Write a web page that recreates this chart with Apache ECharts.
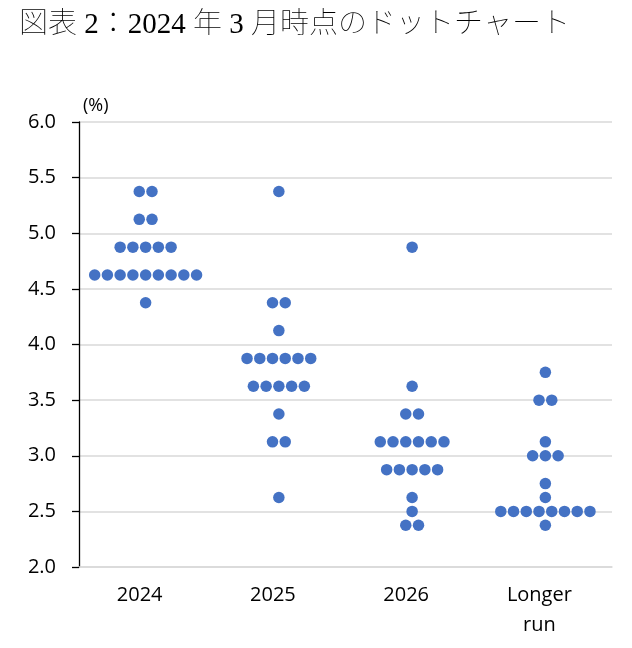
<!DOCTYPE html>
<html>
<head>
<meta charset="utf-8">
<script src="https://cdn.jsdelivr.net/npm/echarts@6/dist/echarts.min.js"></script>
<style>
html,body{margin:0;padding:0;background:#fff;}
#c{width:632px;height:648px;}
</style>
</head>
<body>
<div id="c"></div>
<script>
// Categories and tick values
const categories = ['2024', '2025', '2026', 'Longer\nrun'];
const yTicks = [2.0, 2.5, 3.0, 3.5, 4.0, 4.5, 5.0, 5.5, 6.0];

// Dot plot data: [rate (%), number of participants]
const dots2024 = [[5.375, 2], [5.125, 2], [4.875, 5], [4.625, 9], [4.375, 1]];
const dots2025 = [[5.375, 1], [4.375, 2], [4.125, 1], [3.875, 6], [3.625, 5], [3.375, 1], [3.125, 2], [2.625, 1]];
const dots2026 = [[4.875, 1], [3.625, 1], [3.375, 2], [3.125, 6], [2.875, 5], [2.625, 1], [2.5, 1], [2.375, 2]];
const dotsLonger = [[3.75, 1], [3.5, 2], [3.125, 1], [3.0, 3], [2.75, 1], [2.625, 1], [2.5, 8], [2.375, 1]];

const groups = [dots2024, dots2025, dots2026, dotsLonger];
const spacing = 0.0956; // horizontal step between dots, in category units

const points = [];
groups.forEach(function (g, ci) {
  g.forEach(function (row) {
    const v = row[0], n = row[1];
    for (let j = 0; j < n; j++) {
      points.push([ci + (j - (n - 1) / 2) * spacing, v]);
    }
  });
});

const chart = echarts.init(document.getElementById('c'), null, {renderer: 'canvas'});
const latin = 'Open Sans, Noto Sans, sans-serif';
chart.setOption({
  animation: false,
  backgroundColor: '#fff',
  title: {
    text: '図表 2：2024 年 3 月時点のドットチャート',
    left: 14, top: 6,
    textStyle: {
      fontFamily: 'Liberation Serif, Noto Sans CJK JP',
      fontWeight: 'lighter', fontSize: 29, color: '#000'
    }
  },
  grid: {left: 79, right: 20, top: 122, bottom: 81, containLabel: false},
  xAxis: [
    {
      type: 'category', data: categories, position: 'bottom',
      axisLine: {show: true, lineStyle: {color: '#d9d9d9', width: 1.5}},
      axisTick: {show: false},
      axisLabel: {fontFamily: latin, fontSize: 20, color: '#000', margin: 13, lineHeight: 30, padding: [0, 12, 0, 0]},
      splitLine: {show: false}
    },
    {
      type: 'value', min: -0.5, max: 3.5, show: false, position: 'bottom'
    }
  ],
  yAxis: {
    type: 'value', min: 2, max: 6, interval: 0.5,
    name: '(%)', nameLocation: 'end', nameGap: 7,
    nameTextStyle: {fontFamily: latin, fontSize: 18, color: '#000', align: 'left', padding: [0, 0, 0, 4]},
    axisLine: {show: true, onZero: false, lineStyle: {color: '#000', width: 1.3}},
    axisTick: {show: true, inside: false, length: 7, lineStyle: {color: '#000', width: 1.3}},
    axisLabel: {fontFamily: latin, fontSize: 20, color: '#000', margin: 23,
      formatter: function (v) { return v.toFixed(1); }},
    splitLine: {show: true, lineStyle: {color: '#d9d9d9', width: 1.5}}
  },
  series: [{
    type: 'scatter',
    xAxisIndex: 1,
    data: points,
    symbol: 'circle',
    symbolSize: 11.5,
    itemStyle: {color: '#4472C4', opacity: 1},
    z: 5
  }]
});
</script>
</body>
</html>
